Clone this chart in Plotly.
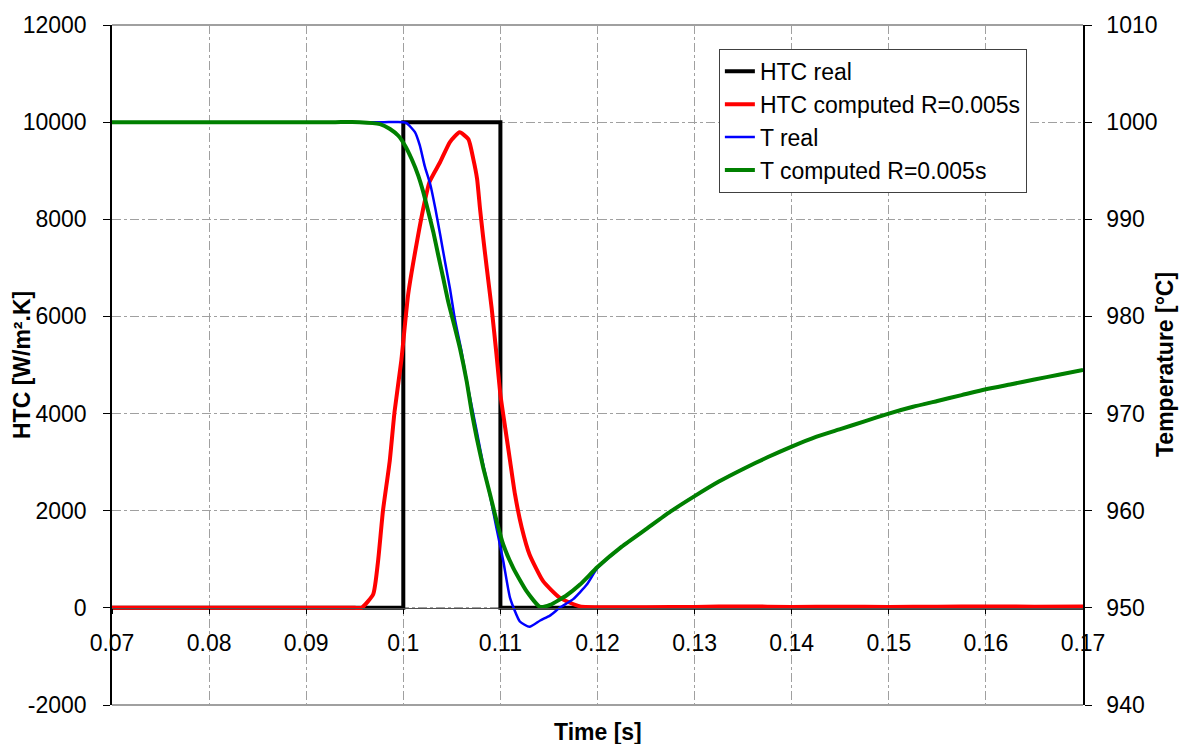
import plotly.graph_objects as go

# ---- data ----
t_htc_real = [0.07, 0.1, 0.1, 0.11, 0.11, 0.17]
htc_real = [0, 0, 10000, 10000, 0, 0]

t_htc_comp = [0.07, 0.075, 0.08, 0.085, 0.09, 0.093, 0.095, 0.0957, 0.0969, 0.0974, 0.0979,
              0.0986, 0.0991, 0.0998, 0.1005, 0.1014,
              0.1022, 0.1027, 0.1038, 0.1048, 0.1058, 0.1067, 0.1072, 0.1076, 0.1079, 0.1082,
              0.1086, 0.1091, 0.1096, 0.1100, 0.1105, 0.1110, 0.1115, 0.1122, 0.1130, 0.1144,
              0.1161, 0.1182, 0.122, 0.125, 0.13, 0.135, 0.14, 0.145, 0.15, 0.155, 0.16, 0.165, 0.17]
htc_comp = [0, 0, 0, 0, 0, 0, 0, 0, 280, 960, 1990,
            3020, 4040, 5100, 6450, 7530,
            8360, 8770, 9180, 9590, 9790, 9650, 9250, 8830, 8220, 7670,
            6990, 6170, 5210, 4390, 3700, 3020, 2340, 1650, 1100, 550,
            210, 30, 15, 15, 20, 30, 20, 25, 20, 25, 30, 25, 30]

t_T_real = [0.07, 0.075, 0.08, 0.085, 0.09, 0.095, 0.098, 0.1, 0.10035, 0.1012, 0.1017, 0.1022,
            0.1028, 0.1033, 0.1038, 0.1043,
            0.1048, 0.1053, 0.1060, 0.1065, 0.1076, 0.1082, 0.1089, 0.1096, 0.1103, 0.1110,
            0.1120, 0.1130, 0.1141, 0.1151, 0.1161, 0.1175, 0.1189, 0.12, 0.1225, 0.125,
            0.1275, 0.13, 0.1325, 0.135, 0.1375, 0.14, 0.1425, 0.145, 0.1475, 0.15,
            0.1525, 0.155, 0.1575, 0.16, 0.1625, 0.165, 0.1675, 0.17]
T_real = [1000, 1000, 1000, 1000, 1000, 1000, 1000, 1000, 999.9, 998.97, 997.6, 995.5,
          993.5, 991.1, 988.4, 985.6,
          982.9, 979.8, 976.4, 973.5, 968.0, 964.9, 961.7, 958.2, 954.8, 951.0,
          948.6, 948.05, 948.7, 949.2, 950.0, 950.9, 952.4, 954.1, 956.3, 958.1,
          959.9, 961.5, 963.0, 964.3, 965.5, 966.6, 967.6, 968.4, 969.2, 970.0,
          970.7, 971.3, 971.9, 972.5, 973.0, 973.5, 974.0, 974.5]

t_T_comp = [0.07, 0.075, 0.08, 0.085, 0.09, 0.093, 0.0955, 0.0976, 0.09863, 0.09949, 0.10017,
            0.10086, 0.10154, 0.10206, 0.10257,
            0.10309, 0.10360, 0.10412, 0.10463, 0.10532, 0.10584, 0.10653, 0.10704, 0.10756, 0.10824,
            0.10893, 0.10962, 0.11030, 0.11133, 0.11271, 0.11408, 0.11511, 0.11683, 0.11820, 0.12,
            0.1225, 0.125, 0.1275, 0.13, 0.1325, 0.135, 0.1375, 0.14, 0.1425, 0.145,
            0.1475, 0.15, 0.1525, 0.155, 0.1575, 0.16, 0.1625, 0.165, 0.1675, 0.17]
T_comp = [1000, 1000, 1000, 1000, 1000, 1000, 1000, 999.8, 999.3, 998.6, 997.6,
          996.2, 994.5, 992.8, 990.8,
          988.7, 986.3, 983.9, 981.5, 978.8, 976.7, 973.3, 970.2, 967.5, 964.4,
          961.7, 958.9, 956.5, 954.1, 951.7, 950.1, 950.3, 951.3, 952.4, 954.2,
          956.3, 958.1, 959.9, 961.5, 963.0, 964.3, 965.5, 966.6, 967.6, 968.4,
          969.2, 970.0, 970.7, 971.3, 971.9, 972.5, 973.0, 973.5, 974.0, 974.5]

x_tickvals = [0.07, 0.08, 0.09, 0.1, 0.11, 0.12, 0.13, 0.14, 0.15, 0.16, 0.17]
x_ticktext = ["0.07", "0.08", "0.09", "0.1", "0.11", "0.12", "0.13", "0.14", "0.15", "0.16", "0.17"]
y_tickvals = [-2000, 0, 2000, 4000, 6000, 8000, 10000, 12000]
y_ticktext = ["-2000", "0", "2000", "4000", "6000", "8000", "10000", "12000"]
y2_tickvals = [940, 950, 960, 970, 980, 990, 1000, 1010]
y2_ticktext = ["940", "950", "960", "970", "980", "990", "1000", "1010"]

FONT = "Liberation Sans, Arial, sans-serif"
FS = 23

fig = go.Figure()
fig.add_trace(go.Scatter(x=t_htc_real, y=htc_real, mode="lines", name="HTC real",
                         line=dict(color="black", width=4)))
fig.add_trace(go.Scatter(x=t_htc_comp, y=htc_comp, mode="lines", name="HTC computed R=0.005s",
                         line=dict(color="#ff0000", width=4, shape="spline", smoothing=0.5)))
fig.add_trace(go.Scatter(x=t_T_real, y=T_real, mode="lines", name="T real",
                         line=dict(color="#0000ff", width=2.5, shape="spline", smoothing=0.5),
                         yaxis="y2"))
fig.add_trace(go.Scatter(x=t_T_comp, y=T_comp, mode="lines", name="T computed R=0.005s",
                         line=dict(color="#008000", width=4, shape="spline", smoothing=0.5),
                         yaxis="y2"))

grid = dict(showgrid=True, gridcolor="#a0a0a0", gridwidth=1, griddash="dashdot")

fig.update_layout(
    width=1182, height=744,
    margin=dict(l=112, r=99, t=23, b=39, pad=0),
    paper_bgcolor="white", plot_bgcolor="white",
    font=dict(family=FONT, size=FS, color="black"),
    showlegend=True,
    legend=dict(x=0.625, y=0.965, xanchor="left", yanchor="top",
                bordercolor="#404040", borderwidth=1, bgcolor="white",
                font=dict(family=FONT, size=FS, color="black"),
                tracegroupgap=0),
    xaxis=dict(range=[0.07, 0.17], tickvals=x_tickvals, ticktext=x_ticktext,
               anchor="free", position=2000 / 14000,
               showline=True, linecolor="#505050", linewidth=1,
               ticks="outside", ticklen=5, tickcolor="black",
               ticklabelstandoff=10, zeroline=False, **grid),
    yaxis=dict(range=[-2000, 12000], tickvals=y_tickvals, ticktext=y_ticktext, domain=[0, 1],
               showline=True, linecolor="black", linewidth=1.5,
               ticks="outside", ticklen=7, tickcolor="black",
               ticklabelstandoff=12, zeroline=False, **grid),
    yaxis2=dict(range=[940, 1010], tickvals=y2_tickvals, ticktext=y2_ticktext,
                overlaying="y", side="right",
                showline=True, linecolor="black", linewidth=1.5,
                ticks="outside", ticklen=7, tickcolor="black",
                ticklabelstandoff=10, showgrid=False, zeroline=False),
    shapes=[
        dict(type="line", xref="paper", yref="paper", x0=0, x1=1, y0=1, y1=1,
             line=dict(color="#808080", width=1.5), layer="below"),
        dict(type="line", xref="paper", yref="paper", x0=0, x1=1, y0=0, y1=0,
             line=dict(color="#808080", width=1.5), layer="below"),
    ],
    annotations=[
        dict(text="<b>HTC [W/m².K]</b>", xref="paper", yref="paper",
             x=(22 - 112) / 971, y=0.5, textangle=-90, showarrow=False,
             xanchor="center", yanchor="middle", font=dict(family=FONT, size=FS)),
        dict(text="<b>Temperature [°C]</b>", xref="paper", yref="paper",
             x=(1165 - 112) / 971, y=0.5, textangle=-90, showarrow=False,
             xanchor="center", yanchor="middle", font=dict(family=FONT, size=FS)),
        dict(text="<b>Time [s]</b>", xref="paper", yref="paper",
             x=0.5, y=(705 - 732) / 682, showarrow=False,
             xanchor="center", yanchor="middle", font=dict(family=FONT, size=FS)),
    ],
)

fig.write_html("out.html")
